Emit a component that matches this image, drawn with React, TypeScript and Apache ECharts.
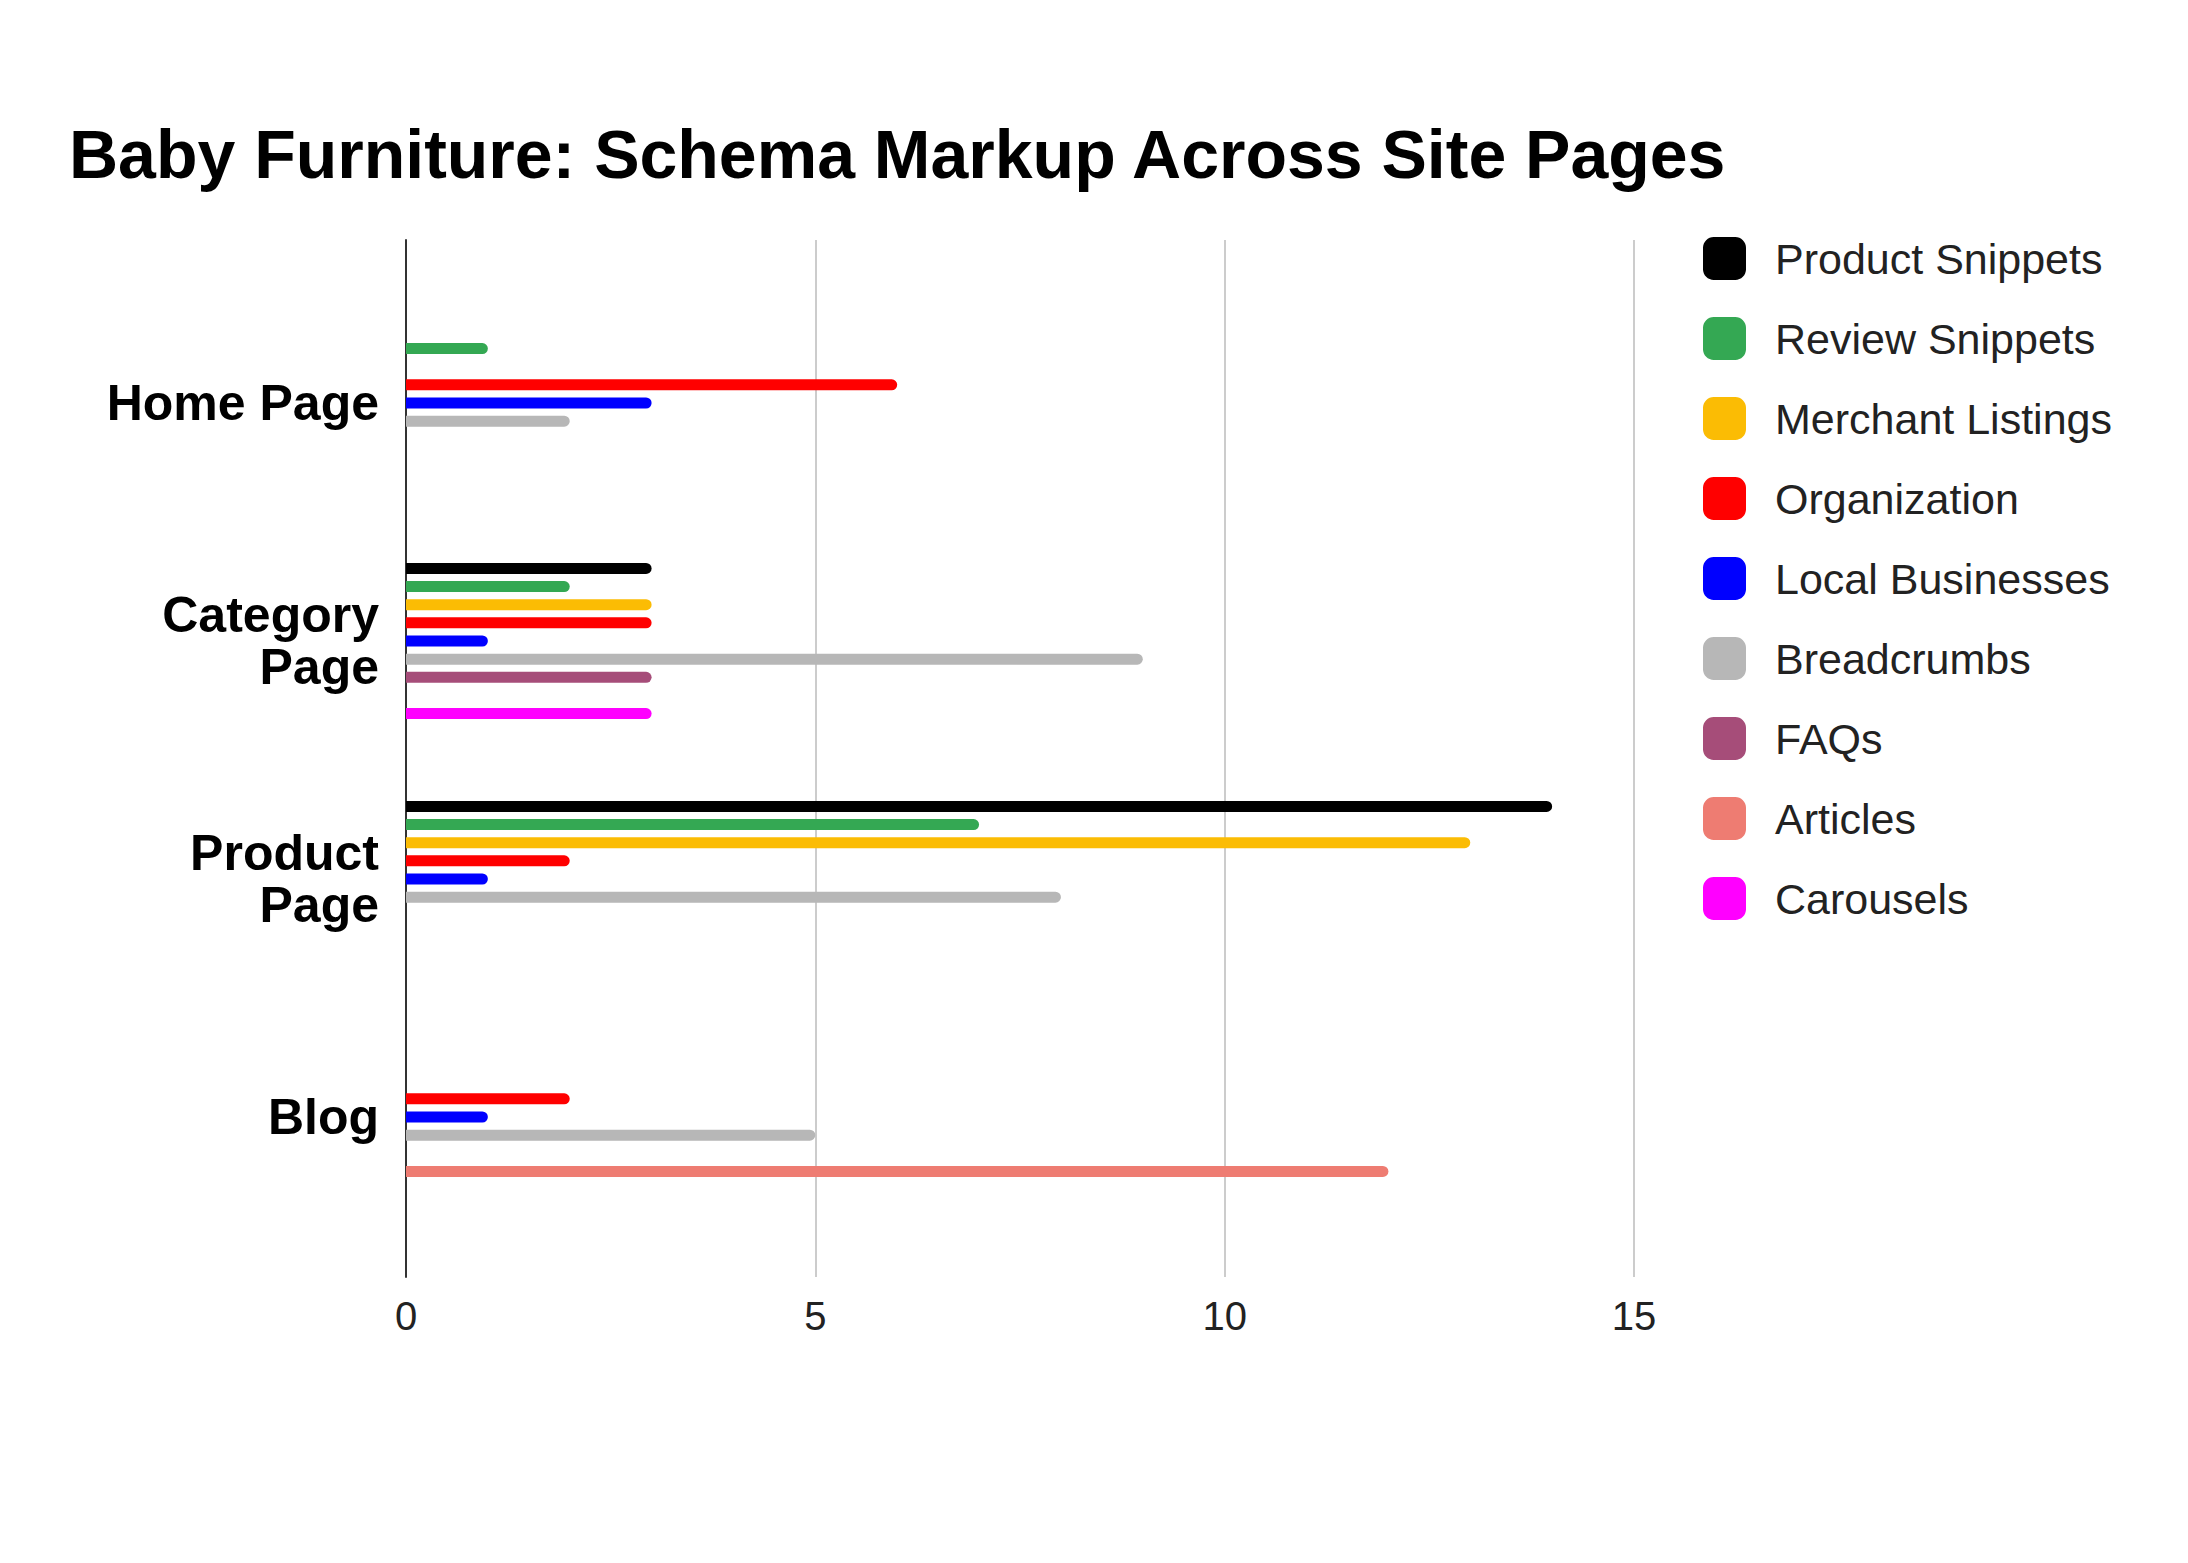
import { useEffect, useRef } from 'react';
import * as echarts from 'echarts';

const categories = ['Home Page', 'Category\nPage', 'Product\nPage', 'Blog'];
const xTicks = [0, 5, 10, 15];

const seriesNames = [
  'Product Snippets',
  'Review Snippets',
  'Merchant Listings',
  'Organization',
  'Local Businesses',
  'Breadcrumbs',
  'FAQs',
  'Articles',
  'Carousels'
];
const seriesColors = ['#000000', '#34a853', '#fbbc04', '#ff0000', '#0000ff', '#b7b7b7', '#a64d79', '#ee7c72', '#ff00ff'];

// one value per page: Home, Category, Product, Blog (null = not present)
const productSnippets = [null, 3, 14, null];
const reviewSnippets = [1, 2, 7, null];
const merchantListings = [null, 3, 13, null];
const organization = [6, 3, 2, 2];
const localBusinesses = [3, 1, 1, 1];
const breadcrumbs = [2, 9, 8, 5];
const faqs = [null, 3, null, null];
const articles = [null, null, null, 12];
const carousels = [null, 3, null, null];

const seriesValues = [
  productSnippets,
  reviewSnippets,
  merchantListings,
  organization,
  localBusinesses,
  breadcrumbs,
  faqs,
  articles,
  carousels
];

const FONT = '"Liberation Sans", Arial, Helvetica, sans-serif';

export default function App() {
  const chartRef = useRef<HTMLDivElement>(null);

  useEffect(() => {
    if (!chartRef.current) return;
    const chart = echarts.init(chartRef.current, undefined, { renderer: 'svg' });

    const option: echarts.EChartsOption = {
      animation: false,
      backgroundColor: '#ffffff',
      textStyle: { fontFamily: FONT },
      title: {
        text: 'Baby Furniture: Schema Markup Across Site Pages',
        left: 64,
        top: 115,
        textStyle: { fontFamily: FONT, fontSize: 68, fontWeight: 'bold', color: '#000' }
      },
      legend: {
        orient: 'vertical',
        left: 1698,
        top: 232,
        itemWidth: 43,
        itemHeight: 43,
        itemGap: 37,
        icon: 'roundRect',
        data: seriesNames,
        textStyle: { fontFamily: FONT, fontSize: 43, color: '#222', padding: [0, 0, 0, 24] }
      },
      grid: [
        // full chart area: gridlines, x labels and the baseline
        { left: 406, top: 240, width: 1228, height: 1037 },
        // bar area, inset from the chart area like the source
        { left: 406, top: 284, width: 1228, height: 952 }
      ],
      xAxis: [
        {
          gridIndex: 0,
          type: 'value',
          min: 0,
          max: 15,
          interval: 5,
          axisLine: { show: false },
          axisTick: { show: false },
          axisLabel: {
            fontFamily: FONT,
            fontSize: 40,
            color: '#222',
            margin: 19,
            formatter: (v: number) => (xTicks.includes(v) ? String(v) : '')
          },
          splitLine: { show: true, lineStyle: { color: '#cccccc', width: 2 } }
        },
        {
          gridIndex: 1,
          type: 'value',
          min: 0,
          max: 15,
          show: false
        }
      ],
      yAxis: [
        {
          gridIndex: 0,
          type: 'value',
          axisLine: { show: true, lineStyle: { color: '#333', width: 2 } },
          axisTick: { show: false },
          axisLabel: { show: false },
          splitLine: { show: false }
        },
        {
          gridIndex: 1,
          type: 'category',
          inverse: true,
          data: categories,
          axisLine: { show: false },
          axisTick: { show: false },
          axisLabel: {
            fontFamily: FONT,
            fontSize: 50,
            fontWeight: 'bold',
            color: '#000',
            margin: 27,
            lineHeight: 52,
            align: 'right',
            padding: [0, 0, 8, 0]
          },
          splitLine: { show: false }
        }
      ],
      series: seriesNames.map((name, i) => ({
        name,
        type: 'bar',
        xAxisIndex: 1,
        yAxisIndex: 1,
        data: seriesValues[i],
        barWidth: 11,
        barGap: '65%',
        itemStyle: { color: seriesColors[i], borderRadius: [0, 5.5, 5.5, 0] }
      }))
    };

    chart.setOption(option);
    return () => chart.dispose();
  }, []);

  return (
    <div
      ref={chartRef}
      style={{ position: 'absolute', left: 0, top: 0, width: 2188, height: 1563 }}
    />
  );
}
